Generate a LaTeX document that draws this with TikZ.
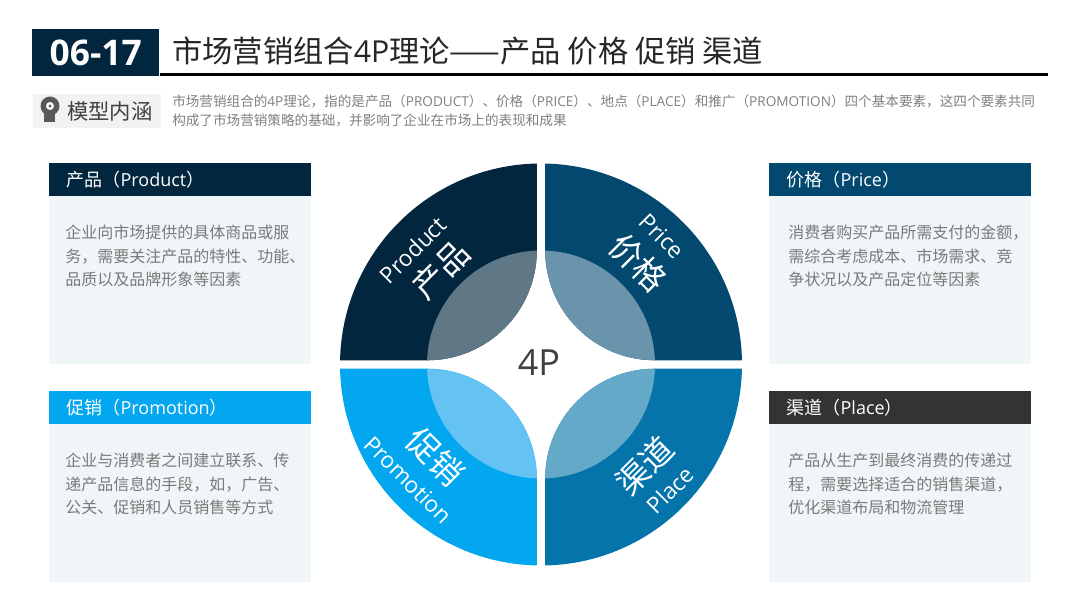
\documentclass[tikz,border=0pt]{standalone}
\usepackage{fontspec}
\setmainfont{Noto Sans CJK SC}
\newfontfamily\la{Open Sans}
\usetikzlibrary{positioning}

\definecolor{navy}{HTML}{02263E}
\definecolor{deep}{HTML}{03496F}
\definecolor{sky}{HTML}{02A7EF}
\definecolor{ocean}{HTML}{0474AB}
\definecolor{coal}{HTML}{333333}
\definecolor{navylens}{HTML}{607885}
\definecolor{deeplens}{HTML}{6A94AC}
\definecolor{skylens}{HTML}{64C3F3}
\definecolor{oceanlens}{HTML}{65A9C9}
\definecolor{pale}{HTML}{F0F6F8}

\begin{document}
\begin{tikzpicture}[x=0.75pt, y=0.75pt]
    \tikzstyle{head}=[anchor=north west, minimum width=196.5pt, minimum height=24.75pt, inner sep=0pt]
    \tikzstyle{bodybox}=[anchor=north west, fill=pale, minimum width=196.5pt, inner sep=0pt]
    \tikzstyle{headtext}=[inner sep=0pt, text=white, font=\fontsize{13.5}{16}\selectfont]
    \tikzstyle{bodytext}=[anchor=north west, inner sep=0pt, align=left, text=black!52, font=\fontsize{12}{17.6}\selectfont]
    \tikzstyle{big}=[inner sep=0pt, text=white, font=\fontsize{24.5}{30}\selectfont]
    \tikzstyle{small}=[inner sep=0pt, text=white, font=\la\fontsize{17}{20}\selectfont]

    \useasboundingbox (0,0) rectangle (1080,607);

    \node[anchor=north west, fill=navy, minimum width=95.25pt, minimum height=35.25pt, inner sep=0pt, text=white, font=\la\bfseries\fontsize{26.5}{30}\selectfont] (code) at (32,578) {06-17};
    \draw[line width=2.25pt] (code.south east |- 0,532) coordinate (ruleL) -- (1048,532) coordinate (ruleR);
    \node[anchor=west, inner sep=0pt, text=black!85, font=\fontsize{22.7}{26}\selectfont] (title) at (172,556) {市场营销组合{\la 4P}理论——产品 价格 促销 渠道};

    \node[anchor=north west, fill=black!5, minimum width=96pt, minimum height=25.5pt, inner sep=0pt] (tag) at (33,513) {};
    \node[anchor=west, inner sep=0pt, text=black!75, font=\fontsize{16}{20}\selectfont] (tagtext) at (67,496) {模型内涵};
    \fill[black!65] (50,501) circle (9.5);
    \fill[black!65] (44,495) rectangle (55,485);
    \fill[white] (50,501) circle (4);
    \fill[black!65] (50,501) circle (1.6);
    \node[anchor=north west, inner sep=0pt, align=left, text=black!50, font=\fontsize{10.2}{14.4}\selectfont] (desc) at (172,512.5) {市场营销组合的{\la 4P}理论，指的是产品（{\la PRODUCT}）、价格（{\la PRICE}）、地点（{\la PLACE}）和推广（{\la PROMOTION}）四个基本要素，这四个要素共同\\构成了市场营销策略的基础，并影响了企业在市场上的表现和成果};

    \node[bodybox, minimum height=126pt] (bprod) at (49,411) {};
    \node[head, fill=navy] (hprod) at (49,444) {};
    \node[headtext, right=13pt of hprod.west] (lprod) {产品（{\la Product}）};
    \node[bodytext] (tprod) at (65,382) {企业向市场提供的具体商品或服\\务，需要关注产品的特性、功能、\\品质以及品牌形象等因素};

    \node[bodybox, minimum height=126pt] (bprice) at (769,411) {};
    \node[head, fill=deep] (hprice) at (769,444) {};
    \node[headtext, right=13pt of hprice.west] (lprice) {价格（{\la Price}）};
    \node[bodytext] (tprice) at (788,382) {消费者购买产品所需支付的金额，\\需综合考虑成本、市场需求、竞\\争状况以及产品定位等因素};

    \node[bodybox, minimum height=118pt] (bpromo) at (49,183) {};
    \node[head, fill=sky] (hpromo) at (49,216) {};
    \node[headtext, right=13pt of hpromo.west] (lpromo) {促销（{\la Promotion}）};
    \node[bodytext] (tpromo) at (65,154) {企业与消费者之间建立联系、传\\递产品信息的手段，如，广告、\\公关、促销和人员销售等方式};

    \node[bodybox, minimum height=118pt] (bplace) at (769,183) {};
    \node[head, fill=coal] (hplace) at (769,216) {};
    \node[headtext, right=13pt of hplace.west] (lplace) {渠道（{\la Place}）};
    \node[bodytext] (tplace) at (788,154) {产品从生产到最终消费的传递过\\程，需要选择适合的销售渠道，\\优化渠道布局和物流管理};

    \foreach \ang/\col in {0/navy, 90/sky, 180/ocean, 270/deep} {
        \begin{scope}[shift={(541,242.5)}, rotate=\ang]
            \fill[\col] (-114,4.2) arc[start angle=-90, end angle=0, radius=109.8] -- (-4.2,200.96) arc[start angle=91.2, end angle=178.8, radius=201] -- cycle;
            \begin{scope}
                \clip (-114,4.2) arc[start angle=-90, end angle=0, radius=109.8] -- (-4.2,200.96) arc[start angle=91.2, end angle=178.8, radius=201] -- cycle;
                \fill[\col lens] (0,0) circle (114);
            \end{scope}
        \end{scope}
    }

    \node[inner sep=0pt, text=black!75, font=\la\fontsize{27}{30}\selectfont] (core) at (539,244) {4P};

    \node[small, rotate=45] (sprod) at (413,357) {Product};
    \node[big, rotate=45] (cprod) at (441,337) {产品};
    \node[small, rotate=-45] (sprice) at (662,371) {Price};
    \node[big, rotate=-45] (cprice) at (638,344) {价格};
    \node[small, rotate=-45] (spromo) at (408,127) {Promotion};
    \node[big, rotate=-45] (cpromo) at (435,150) {促销};
    \node[small, rotate=45] (splace) at (670,117) {Place};
    \node[big, rotate=45] (cplace) at (645,141) {渠道};
\end{tikzpicture}
\end{document}
